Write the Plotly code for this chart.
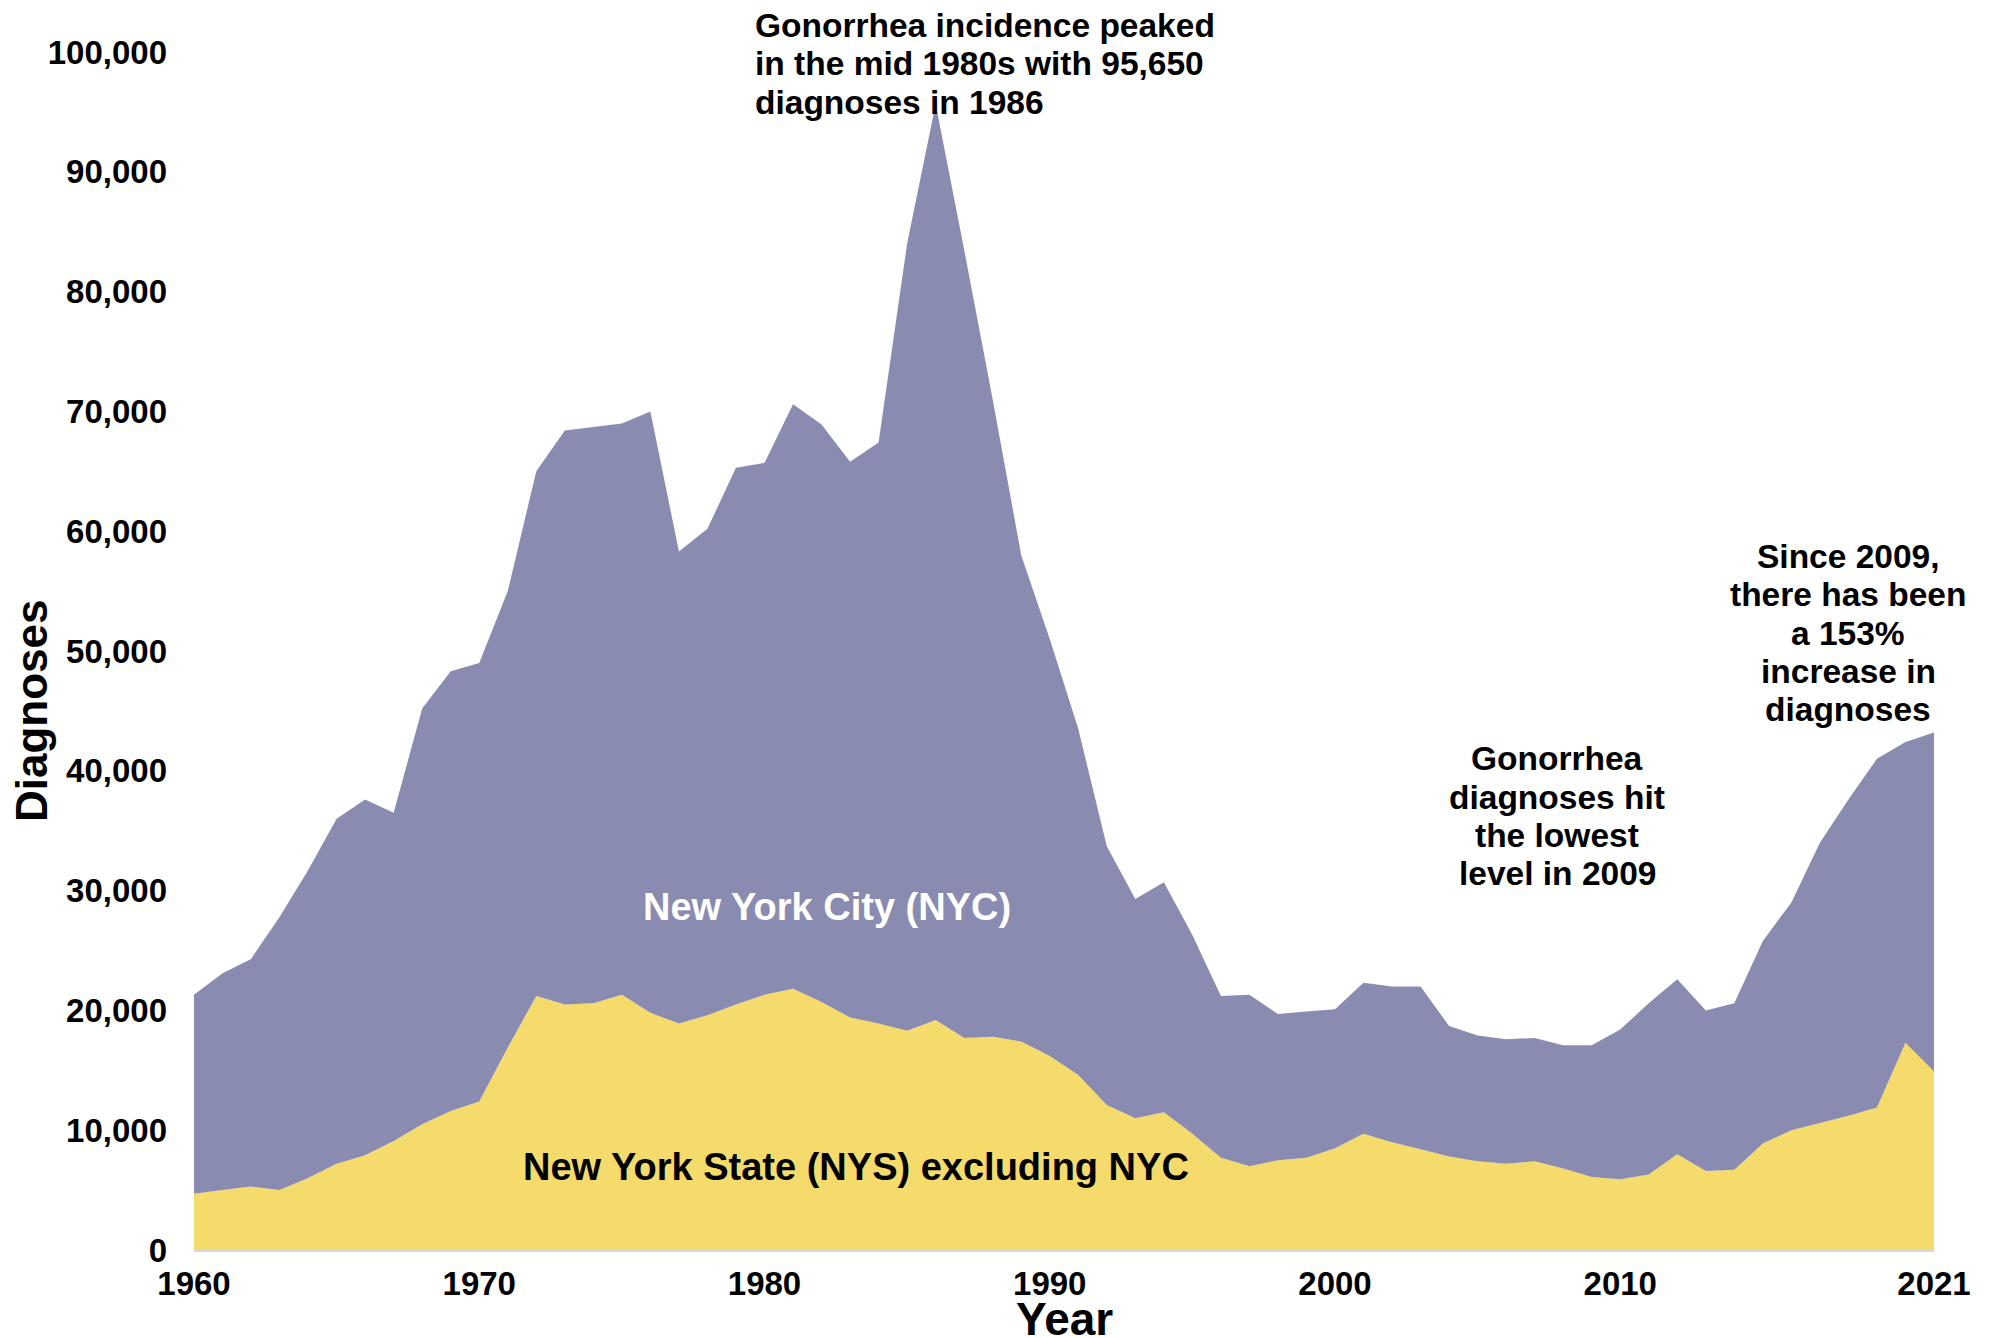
import plotly.graph_objects as go

years = list(range(1960, 2022))

# New York State excluding NYC (bottom layer)
nys_excl_nyc = [
    4700, 5000, 5300, 5000, 6000, 7200, 7900, 9100, 10500, 11600,   # 1960-1969
    12400, 16900, 21200, 20500, 20600, 21300, 19800, 18900, 19600, 20500,  # 1970-1979
    21300, 21800, 20700, 19400, 18900, 18300, 19200, 17700, 17800, 17400,  # 1980-1989
    16200, 14600, 12100, 11000, 11500, 9700, 7700, 7000, 7500, 7700,  # 1990-1999
    8500, 9700, 9000, 8400, 7800, 7400, 7200, 7400, 6800, 6100,      # 2000-2009
    5900, 6300, 8000, 6600, 6700, 8900, 10000, 10600, 11200, 11900,  # 2010-2019
    17300, 14900,                                                    # 2020-2021
]

# New York City (top layer)
nyc = [
    16600, 18100, 19000, 22800, 25700, 28800, 29700, 27400, 34700, 36700,  # 1960-1969
    36600, 38100, 43800, 47900, 48100, 47700, 50200, 39400, 40600, 44800,  # 1970-1979
    44400, 48800, 48200, 46400, 48500, 65700, 76450, 65800, 53200, 40600,  # 1980-1989
    34800, 28900, 21600, 18300, 19200, 16600, 13500, 14300, 12200, 12200,  # 1990-1999
    11600, 12600, 13000, 13600, 10900, 10500, 10400, 10300, 10300, 11000,  # 2000-2009
    12500, 14300, 14600, 13400, 13900, 16900, 19000, 23400, 26400, 29100,  # 2010-2019
    25100, 28300,                                                          # 2020-2021
]

x_tick_vals = [1960, 1970, 1980, 1990, 2000, 2010, 2021]
y_tick_vals = list(range(0, 100001, 10000))

peak_lines = ["Gonorrhea incidence peaked", "in the mid 1980s with 95,650", "diagnoses in 1986"]
low_lines = ["Gonorrhea", "diagnoses hit", "the lowest", "level in 2009"]
since_lines = ["Since 2009,", "there has been", "a 153%", "increase in", "diagnoses"]

FONT = "Arial, Liberation Sans, sans-serif"
PURPLE = "#8A8BB0"
YELLOW = "#F4DB6C"
Y_MAX = 100000
LINE_STEP = 0.032  # vertical spacing between annotation lines, fraction of plot height

fig = go.Figure()
fig.add_trace(go.Scatter(
    x=years, y=nys_excl_nyc, stackgroup="one", mode="none",
    fillcolor=YELLOW, name="New York State (NYS) excluding NYC",
))
fig.add_trace(go.Scatter(
    x=years, y=nyc, stackgroup="one", mode="none",
    fillcolor=PURPLE, name="New York City (NYC)",
))

ann_font = dict(family=FONT, size=33.5, color="black", weight="bold")


def add_lines(lines, x, y_top, xanchor):
    # y_top in paper fraction of plot height
    for i, line in enumerate(lines):
        fig.add_annotation(text=line, x=x, y=y_top - i * LINE_STEP, xref="x", yref="paper",
                           showarrow=False, xanchor=xanchor, yanchor="middle",
                           font=ann_font)


add_lines(peak_lines, 1979.6, 1.022, "left")
add_lines(low_lines, 2007.8, 0.410, "center")
add_lines(since_lines, 2018.0, 0.579, "center")

fig.add_annotation(text="New York City (NYC)", x=1982.2, y=28600, xref="x", yref="y",
                   showarrow=False, xanchor="center", yanchor="middle",
                   font=dict(family=FONT, size=38, color="white", weight="bold"))
fig.add_annotation(text="New York State (NYS) excluding NYC", x=1983.2, y=6900,
                   xref="x", yref="y", showarrow=False, xanchor="center", yanchor="middle",
                   font=dict(family=FONT, size=38, color="black", weight="bold"))
fig.add_annotation(text="Diagnoses", xref="paper", yref="paper",
                   x=-0.093, y=0.45, textangle=-90, showarrow=False,
                   font=dict(family=FONT, size=44, color="black", weight="bold"),
                   xanchor="center", yanchor="middle")
fig.add_annotation(text="Year", xref="paper", yref="paper",
                   x=0.5, y=-0.058, showarrow=False,
                   font=dict(family=FONT, size=46, color="black", weight="bold"),
                   xanchor="center", yanchor="middle")

# The page body has an 8px margin; size the figure so the plot area lands
# at the same screen position as in the reference.
fig.update_layout(
    width=1982, height=1330,
    margin=dict(l=186, r=56, t=44, b=88),
    paper_bgcolor="white", plot_bgcolor="white",
    showlegend=False,
    font=dict(family=FONT, color="black"),
    xaxis=dict(
        range=[1960, 2021], tickmode="array", tickvals=x_tick_vals,
        ticktext=[str(v) for v in x_tick_vals],
        tickfont=dict(family=FONT, size=33, color="black", weight="bold"),
        showgrid=False, zeroline=False, showline=True, linecolor="#d9d9d9",
        linewidth=2, ticks="", ticklabelstandoff=3, automargin=False,
    ),
    yaxis=dict(
        range=[0, Y_MAX], tickmode="array", tickvals=y_tick_vals,
        tickformat=",d",
        tickfont=dict(family=FONT, size=33, color="black", weight="bold"),
        showgrid=False, zeroline=False, showline=False, ticks="",
        ticklabelstandoff=26, automargin=False,
    ),
)

fig.write_html("out.html")
